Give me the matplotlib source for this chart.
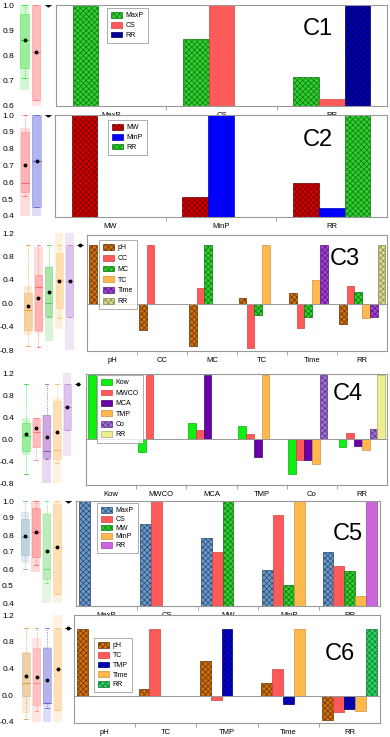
import numpy as np
import matplotlib.pyplot as plt
from matplotlib.patches import Patch

plt.rcParams['font.family'] = ['Liberation Sans', 'DejaVu Sans']
plt.rcParams['hatch.linewidth'] = 0.5

nan = np.nan

# ---- values ----
# box stats per column: (bg_lo, bg_hi, whislo, q1, med, q3, whishi, mean)
c1_groups = ['MaxP', 'CS', 'RR']
c1_maxp = [1.0, 0.865, 0.714]
c1_cs = [nan, 1.0, 0.628]
c1_rr = [nan, nan, 1.0]
c1_box = [(0.665, 1.0, 0.71, 0.75, 0.863, 0.965, 1.0, 0.86),
          (0.60, 1.0, 0.624, 0.624, 0.813, 1.0, 1.0, 0.813),
          (1.0, 1.0, 1.0, 1.0, 1.0, 1.0, 1.0, 1.0)]

c2_groups = ['MW', 'MinP', 'RR']
c2_mw = [1.0, 0.518, 0.60]
c2_minp = [nan, 1.0, 0.455]
c2_rr = [nan, nan, 1.0]
c2_box = [(0.40, 0.925, 0.52, 0.54, 0.598, 0.90, 1.0, 0.705),
          (0.40, 1.0, 0.455, 0.455, 0.727, 1.0, 1.0, 0.727),
          (1.0, 1.0, 1.0, 1.0, 1.0, 1.0, 1.0, 1.0)]

c3_groups = ['pH', 'CC', 'MC', 'TC', 'Time', 'RR']
c3_ph = [1.0, -0.45, -0.73, 0.10, 0.19, -0.34]
c3_cc = [nan, 1.0, 0.27, -0.75, -0.42, 0.31]
c3_mc = [nan, nan, 1.0, -0.20, -0.23, 0.21]
c3_tc = [nan, nan, nan, 1.0, 0.40, -0.25]
c3_time = [nan, nan, nan, nan, 1.0, -0.23]
c3_rr = [nan, nan, nan, nan, nan, 1.0]
c3_box = [(-0.54, 0.29, -0.73, -0.46, -0.12, 0.18, 1.0, -0.04),
          (-0.51, 0.96, -0.75, -0.46, 0.27, 0.49, 1.0, 0.09),
          (-0.65, 0.64, -0.23, -0.22, 0.005, 0.62, 1.0, 0.195),
          (-0.44, 1.25, -0.25, -0.08, 0.40, 0.85, 1.0, 0.383),
          (-0.85, 1.25, -0.23, -0.23, 0.385, 1.0, 1.0, 0.385),
          (1.0, 1.0, 1.0, 1.0, 1.0, 1.0, 1.0, 1.0)]

c4_groups = ['Kow', 'MWCO', 'MCA', 'TMP', 'Co', 'RR']
c4_kow = [1.0, -0.19, 0.26, 0.21, -0.54, -0.12]
c4_mwco = [nan, 1.0, 0.14, 0.08, -0.32, 0.10]
c4_mca = [nan, nan, 1.0, -0.28, -0.32, -0.10]
c4_tmp = [nan, nan, nan, 1.0, -0.38, -0.17]
c4_co = [nan, nan, nan, nan, 1.0, 0.16]
c4_rr = [nan, nan, nan, nan, nan, 1.0]
c4_box = [(-0.29, 0.38, -0.63, -0.22, 0.05, 0.30, 1.0, 0.09),
          (-0.17, 0.39, -0.38, -0.15, 0.12, 0.38, 0.38, 0.20),
          (-0.85, 0.44, -0.37, -0.35, -0.22, 0.43, 1.0, 0.04),
          (-0.85, 0.77, -0.43, -0.37, -0.20, 0.70, 1.0, 0.12),
          (-0.31, 1.25, 0.17, 0.17, 0.59, 1.0, 1.0, 0.59),
          (1.0, 1.0, 1.0, 1.0, 1.0, 1.0, 1.0, 1.0)]

c5_groups = ['MaxP', 'CS', 'MW', 'MinP', 'RR']
c5_maxp = [1.0, 0.866, 0.79, 0.604, 0.71]
c5_cs = [nan, 1.0, 0.71, 0.92, 0.627]
c5_mw = [nan, nan, 1.0, 0.518, 0.60]
c5_minp = [nan, nan, nan, 1.0, 0.455]
c5_rr = [nan, nan, nan, nan, 1.0]
c5_box = [(0.635, 0.935, 0.60, 0.68, 0.79, 0.895, 1.0, 0.795),
          (0.585, 1.0, 0.625, 0.67, 0.815, 0.96, 1.0, 0.815),
          (0.38, 0.93, 0.52, 0.54, 0.60, 0.925, 1.0, 0.707),
          (0.38, 1.02, 0.455, 0.455, 0.727, 0.985, 1.0, 0.727),
          (1.0, 1.0, 1.0, 1.0, 1.0, 1.0, 1.0, 1.0)]

c6_groups = ['pH', 'TC', 'TMP', 'Time', 'RR']
c6_ph = [1.0, 0.10, 0.52, 0.19, -0.35]
c6_tc = [nan, 1.0, -0.05, 0.40, -0.23]
c6_tmp = [nan, nan, 1.0, -0.11, -0.19]
c6_time = [nan, nan, nan, 1.0, -0.22]
c6_rr = [nan, nan, nan, nan, 1.0]
c6_box = [(-0.27, 0.64, -0.35, -0.01, 0.19, 0.63, 1.0, 0.29),
          (-0.42, 0.85, -0.24, -0.15, 0.18, 0.70, 1.0, 0.28),
          (-0.42, 0.72, -0.19, -0.12, -0.11, 0.71, 1.0, 0.23),
          (-0.42, 1.25, -0.22, -0.22, 0.39, 1.0, 1.0, 0.39),
          (1.0, 1.0, 1.0, 1.0, 1.0, 1.0, 1.0, 1.0)]

# ---- styles (face, edge/hatch colour, hatch) ----
HX = 'xxxxxx'
GRN_H = ('#33CC33', '#0A7A0A', HX)
RED = ('#FF5A5A', '#D04040', '')
NAVY_H = ('#0000B0', '#000060', HX)
DRED_H = ('#D00000', '#700000', HX)
BLUE = ('#0000FF', '#0000C0', '')
BROWN_H = ('#D07010', '#6A3500', HX)
ORANGE = ('#FFB84D', '#D09040', '')
PURP_H = ('#A040D0', '#5A1A80', HX)
KHAKI_H = ('#D8D890', '#8A8A50', HX)
KOW = ('#11EE11', '#0AAA0A', '')
MCA = ('#6A00A8', '#40006A', '')
CO_H = ('#A070D0', '#603090', HX)
YELLOW = ('#EEEE90', '#B0B060', '')
STEEL_H = ('#6A9ACC', '#2A4A6A', HX)
LILAC = ('#CC66DD', '#A040B0', '')
NAVY_H2 = ('#0000D0', '#000070', HX)
TEAL_H = ('#30D060', '#0A7A30', HX)

W, H = 390, 737
fig = plt.figure(figsize=(W / 100, H / 100), dpi=100)


def px_axes(x0, x1, y0, y1):
    return fig.add_axes([x0 / W, 1 - y1 / H, (x1 - x0) / W, (y1 - y0) / H])


def draw_row(groups, series, styles, box, box_colors, box_geo, bar_geo,
             ylim_box, ylim_bar, yticks, bar_w, leg_xy, leg_sp, tag, tag_xy,
             zero=False):
    # left: box panel
    p1, s, y0, y1 = box_geo
    n = len(box)
    bx = px_axes(p1 - 0.6 * s, p1 + (n - 0.5) * s, y0, y1)
    pos = np.arange(1, n + 1)
    for i, b in enumerate(box[:-1]):
        bx.bar(pos[i], b[1] - b[0], bottom=b[0], width=0.8,
               color=box_colors[i], alpha=0.22, linewidth=0)
    stats = [dict(whislo=b[2], q1=b[3], med=b[4], q3=b[5], whishi=b[6],
                  mean=b[7], fliers=[]) for b in box]
    art = bx.bxp(stats, positions=pos, widths=[0.7] * (n - 1) + [0.5],
                 patch_artist=True, showmeans=True,
                 meanprops=dict(marker='o', markersize=1.8, markerfacecolor='k',
                                markeredgecolor='k'))
    for i in range(n):
        c = box_colors[i] if i < n - 1 else '#333333'
        art['boxes'][i].set_facecolor(c if i < n - 1 else 'none')
        art['boxes'][i].set_alpha(0.35 if i < n - 1 else 1)
        art['boxes'][i].set_edgecolor(c)
        art['boxes'][i].set_linewidth(0.7)
        art['medians'][i].set_color(c)
        art['medians'][i].set_linewidth(0.8)
        for k in (2 * i, 2 * i + 1):
            art['whiskers'][k].set_color(c)
            art['whiskers'][k].set_linewidth(0.6)
            art['whiskers'][k].set_linestyle(':')
            art['caps'][k].set_color(c)
            art['caps'][k].set_linewidth(0.6)
    bx.set_xlim(0.4, n + 0.5)
    bx.set_ylim(*ylim_box)
    for sp in bx.spines.values():
        sp.set_visible(False)
    bx.set_xticks([])
    bx.set_yticks(yticks)
    bx.set_yticklabels(['%.1f' % t for t in yticks])
    bx.tick_params(axis='y', length=0, labelsize=6, pad=(p1 - 0.6 * s - 14) * 0.72)

    # right: grouped bars
    ax = px_axes(*bar_geo)
    ng, ns = len(groups), len(series)
    x = np.arange(ng) + 0.5
    for i, (vals, st) in enumerate(zip(series, styles)):
        off = (i - (ns - 1) / 2) * bar_w
        ax.bar(x + off, vals, bar_w, color=st[0], edgecolor=st[1],
               hatch=st[2], linewidth=0.5)
    ax.set_xlim(0, ng)
    ax.set_ylim(*ylim_bar)
    ax.set_yticks([])
    ax.set_xticks(x)
    ax.set_xticklabels(groups)
    ax.set_xticks(np.arange(1, ng), minor=True)
    ax.tick_params(axis='x', which='major', length=0, labelsize=5.5, pad=4)
    ax.tick_params(axis='x', which='minor', length=3, width=0.6, color='#999999')
    for sp in ax.spines.values():
        sp.set_color('#999999')
        sp.set_linewidth(0.8)
    if zero:
        ax.axhline(0, color='#999999', linewidth=0.7)
    handles = [Patch(facecolor=st[0], edgecolor=st[1], hatch=st[2], linewidth=0.5)
               for st in styles]
    leg = ax.legend(handles, list(groups), loc='upper left',
                    bbox_to_anchor=(leg_xy[0] / W, 1 - leg_xy[1] / H),
                    bbox_transform=fig.transFigure, fontsize=5,
                    frameon=True, fancybox=False, borderaxespad=0,
                    handlelength=1.5, handleheight=0.9, handletextpad=0.6,
                    labelspacing=leg_sp, borderpad=0.6)
    leg.get_frame().set_edgecolor('#888888')
    leg.get_frame().set_linewidth(0.6)
    fig.text(tag_xy[0] / W, 1 - tag_xy[1] / H, tag, fontsize=17,
             ha='left', va='baseline')


draw_row(c1_groups, [c1_maxp, c1_cs, c1_rr], [GRN_H, RED, NAVY_H], c1_box,
         ['#33DD33', '#FF7777'], (24.5, 11.75, 5, 106), (56, 387, 5, 106),
         (0.6, 1.0), (0.6, 1.0), [0.6, 0.7, 0.8, 0.9, 1.0], 0.233,
         (107, 8), 0.35, 'C1', (303, 35))
draw_row(c2_groups, [c2_mw, c2_minp, c2_rr], [DRED_H, BLUE, GRN_H], c2_box,
         ['#FF6666', '#6666DD'], (25, 11.5, 115, 216), (55, 387, 115, 217),
         (0.4, 1.0), (0.4, 1.0), [0.4, 0.5, 0.6, 0.7, 0.8, 0.9, 1.0], 0.233,
         (108, 120), 0.35, 'C2', (303, 146))
draw_row(c3_groups, [c3_ph, c3_cc, c3_mc, c3_tc, c3_time, c3_rr],
         [BROWN_H, RED, GRN_H, ORANGE, PURP_H, KHAKI_H], c3_box,
         ['#F0A040', '#FF6666', '#55CC55', '#FFC060', '#BB88DD'],
         (28, 10.4, 233, 350), (87, 387, 235, 351),
         (-0.8, 1.2), (-0.81, 1.18), [-0.8, -0.4, 0.0, 0.4, 0.8, 1.2], 0.155,
         (99, 240), 0.5, 'C3', (330, 265), zero=True)
draw_row(c4_groups, [c4_kow, c4_mwco, c4_mca, c4_tmp, c4_co, c4_rr],
         [KOW, RED, MCA, ORANGE, CO_H, YELLOW], c4_box,
         ['#33DD33', '#FF7777', '#9955BB', '#FFC070', '#BB88DD'],
         (26, 10.3, 373, 483), (86, 387, 374, 485),
         (-0.8, 1.2), (-0.71, 1.02), [-0.8, -0.4, 0.0, 0.4, 0.8, 1.2], 0.155,
         (97, 375), 0.45, 'C4', (333, 400), zero=True)
draw_row(c5_groups, [c5_maxp, c5_cs, c5_mw, c5_minp, c5_rr],
         [STEEL_H, RED, GRN_H, ORANGE, LILAC], c5_box,
         ['#7AAAC0', '#FF5555', '#77DD77', '#FFC070'],
         (25, 10.75, 501, 603), (76, 380, 501, 606),
         (0.4, 1.0), (0.4, 1.0), [0.4, 0.5, 0.6, 0.7, 0.8, 0.9, 1.0], 0.178,
         (97, 503), 0.2, 'C5', (333, 540))
draw_row(c6_groups, [c6_ph, c6_tc, c6_tmp, c6_time, c6_rr],
         [BROWN_H, RED, NAVY_H2, ORANGE, TEAL_H], c6_box,
         ['#D8A050', '#FF8888', '#6666DD', '#FFC070'],
         (26, 10.5, 615, 722), (74, 380, 615, 723),
         (-0.4, 1.2), (-0.40, 1.21), [-0.4, 0.0, 0.4, 0.8, 1.2], 0.178,
         (94, 638), 0.35, 'C6', (325, 660), zero=True)

fig.savefig('out.png', dpi=100)
